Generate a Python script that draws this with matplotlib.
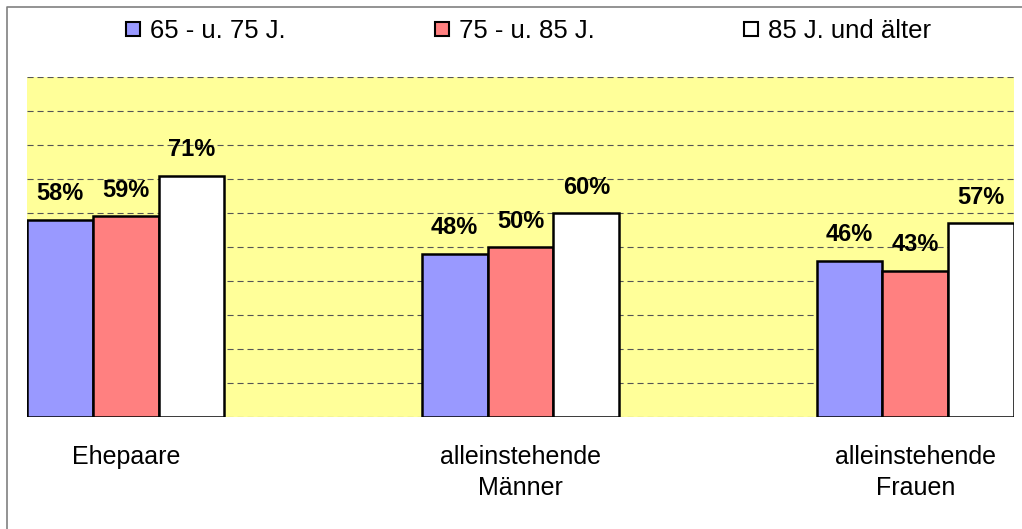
import numpy as np
import matplotlib.pyplot as plt
from matplotlib.lines import Line2D

plt.rcParams['font.family'] = ['Liberation Sans', 'DejaVu Sans']

# Daten
kategorien = ['Ehepaare', 'alleinstehende\nMänner', 'alleinstehende\nFrauen']
serien = ['65 - u. 75 J.', '75 - u. 85 J.', '85 J. und älter']
werte_65 = [58, 48, 46]
werte_75 = [59, 50, 43]
werte_85 = [71, 60, 57]
farben = ['#9999FF', '#FF8080', '#FFFFFF']

fig = plt.figure(figsize=(10.22, 5.29), dpi=100)
ax = fig.add_axes([27/1022, 1 - 417/529, 987/1022, 340/529])
ax.set_facecolor('#FFFF99')

x = np.arange(len(kategorien))
breite = 1/6
for i, (werte, farbe) in enumerate(zip([werte_65, werte_75, werte_85], farben)):
    pos = x + (i - 1) * breite
    ax.bar(pos, werte, breite, color=farbe, edgecolor='black', linewidth=1.8, zorder=3)
    for p, w in zip(pos, werte):
        ax.annotate('{}%'.format(w), (p, w), xytext=(0, 14), textcoords='offset points',
                    ha='center', va='baseline', fontsize=17, fontweight='bold', zorder=4)

ax.set_xlim(-0.25, 2.25)
ax.set_ylim(0, 100)
ax.set_yticks(np.arange(0, 101, 10))
ax.set_yticklabels([])
ax.tick_params(axis='y', length=0)
ax.yaxis.grid(True, color='#555555', linestyle=(0, (5.5, 3.5)), linewidth=0.8, zorder=1)
ax.set_axisbelow(True)
for s in ax.spines.values():
    s.set_visible(False)

ax.set_xticks(x)
ax.set_xticklabels(kategorien, fontsize=18, linespacing=1.4)
ax.tick_params(axis='x', length=0, pad=20)

# Legende
handles = [Line2D([], [], marker='s', linestyle='none', markersize=10,
                  markerfacecolor=f, markeredgecolor='black', markeredgewidth=1.5)
           for f in farben]
fig.legend(handles, serien, loc='center', bbox_to_anchor=(528/1022, 1 - 31/529),
           ncol=3, frameon=False, fontsize=18.5, handlelength=0.6, handletextpad=0.35,
           columnspacing=5.8, borderpad=0)

# Rahmen links und oben
fig.add_artist(Line2D([7/1022, 7/1022, 1], [0, 1 - 7/529, 1 - 7/529],
                      transform=fig.transFigure, color='#808080', linewidth=1.2))

fig.savefig('out.png', dpi=100)
